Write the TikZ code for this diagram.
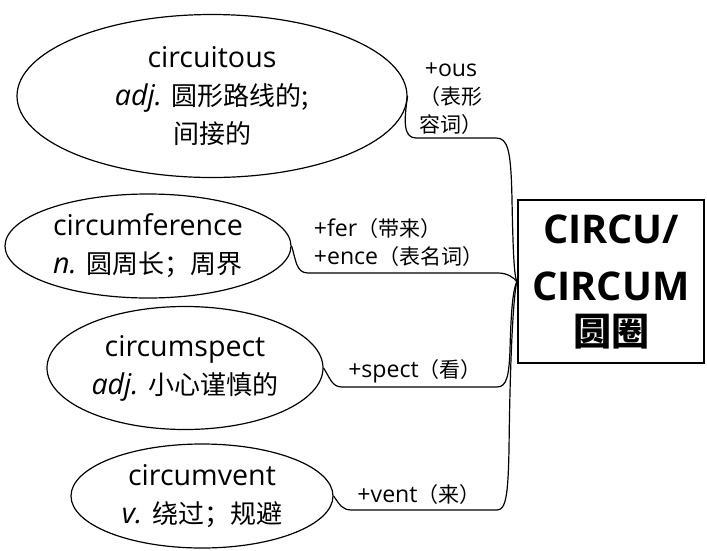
\documentclass[tikz,border=0pt]{standalone}
\usepackage{fontspec}
\setmainfont{Open Sans}[Scale=1.1]
\newfontfamily\cjk{Noto Sans CJK SC}
\usetikzlibrary{shapes,arrows,positioning,calc}

\begin{document}
\begin{tikzpicture}[x=1pt,y=-1pt,
    word/.style={ellipse,draw,line width=1.2pt,inner sep=0pt,align=center,font=\fontsize{26}{38}\selectfont},
    affix/.style={font=\fontsize{21}{28}\selectfont},
    link/.style={line width=1.2pt}]
    \useasboundingbox (0,0) rectangle (707,550);

    \node[word,minimum width=390,minimum height=163] (circuitous) at (212,96) {circuitous\\\textit{adj.} {\cjk 圆形路线的;}\\{\cjk 间接的}};
    \node[word,minimum width=286,minimum height=104] (circumference) at (148,246) {circumference\\\textit{n.} {\cjk 圆周长；周界}};
    \node[word,minimum width=276,minimum height=123] (circumspect) at (185,368) {circumspect\\\textit{adj.} {\cjk 小心谨慎的}};
    \node[word,minimum width=262,minimum height=104] (circumvent) at (202,496) {circumvent\\\textit{v.} {\cjk 绕过；规避}};

    \node[rectangle,draw,line width=2.4pt,minimum width=186,minimum height=163,align=center,
        font=\fontsize{36}{45}\selectfont\bfseries] (root) at (611,281.5)
        {CIRCU/\\[12pt]CIRCUM\\{\fontsize{38}{45}\selectfont\cjk 圆圈}};

    \node[affix,align=center] (ous) at (451,99) {+ous\\{\cjk （表形}\\{\cjk 容词）}};
    \node[affix,align=left,anchor=west] (fer) at (310,243) {+fer{\cjk （带来）}\\+ence{\cjk （表名词）}};
    \node[affix] (spect) at (415,371) {+spect{\cjk （看）}};
    \node[affix] (vent) at (419,495) {+vent{\cjk （来）}};

    \draw[link] (circuitous.east) .. controls (404,120) and (403,138) .. (416,138) -- (496,138)
        .. controls (508,138) and (511,150) .. (512,200) .. controls (513,250) and (514,275) .. (root.west);
    \draw[link] (circumference.east) .. controls (296,260) and (296,273) .. (308,273) -- (498,273)
        .. controls (508,273) and (514,278) .. (root.west);
    \draw[link] (circumspect.east) .. controls (330,378) and (332,387) .. (342,387) -- (497,387)
        .. controls (507,387) and (509,375) .. (510,350) .. controls (511,310) and (513,290) .. (root.west);
    \draw[link] (circumvent.east) .. controls (340,505) and (342,510) .. (352,510) -- (497,510)
        .. controls (506,510) and (508,495) .. (509,450) .. controls (510,360) and (513,300) .. (root.west);
\end{tikzpicture}
\end{document}
